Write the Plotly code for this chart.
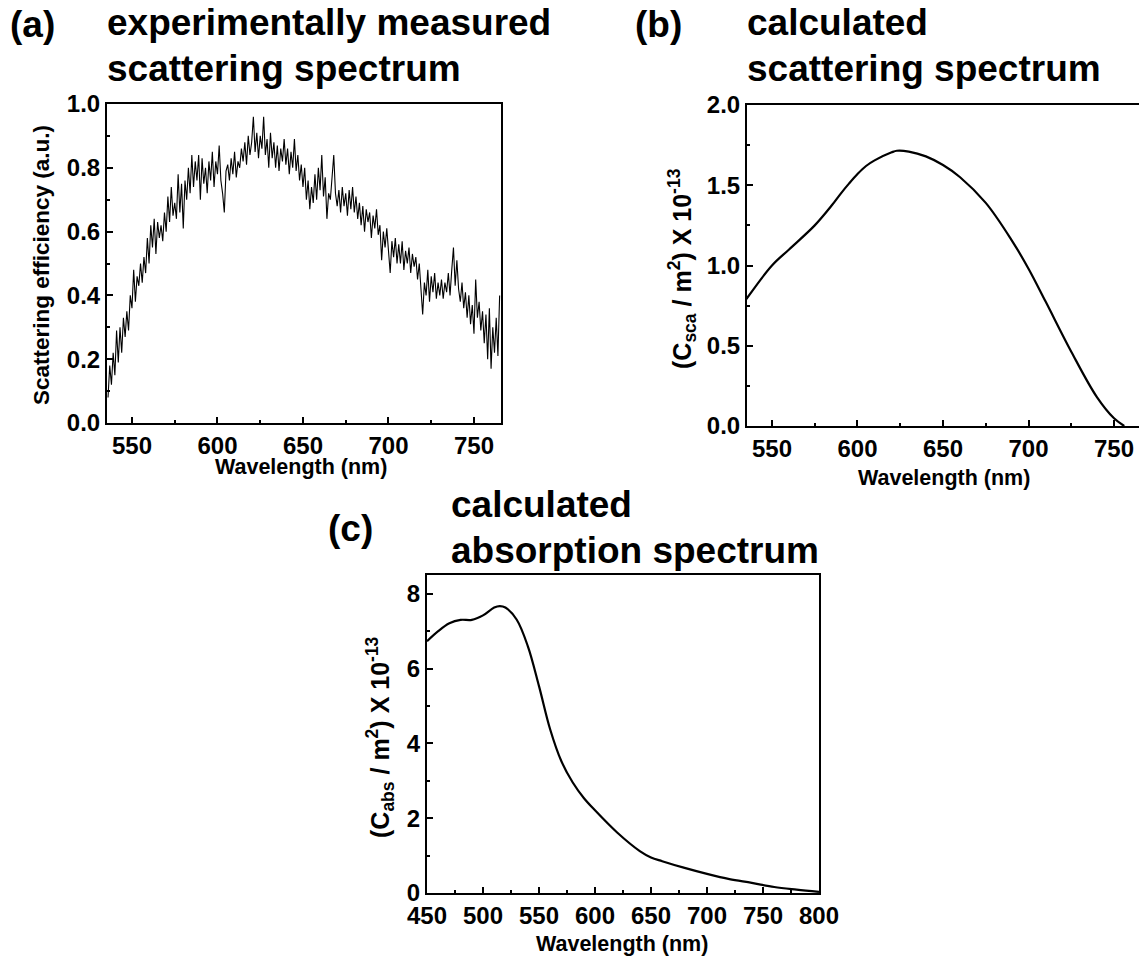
import plotly.graph_objects as go

# ---------------- data ----------------
wl_a = list(range(536, 766))
eff_a = [
    0.08, 0.18, 0.12, 0.22, 0.15, 0.29, 0.19, 0.30, 0.22, 0.33,
    0.27, 0.35, 0.29, 0.40, 0.36, 0.48, 0.38, 0.46, 0.43, 0.50,
    0.44, 0.52, 0.47, 0.58, 0.50, 0.62, 0.55, 0.64, 0.53, 0.63,
    0.58, 0.62, 0.57, 0.66, 0.60, 0.71, 0.63, 0.74, 0.65, 0.69,
    0.64, 0.78, 0.66, 0.75, 0.61, 0.76, 0.70, 0.80, 0.72, 0.84,
    0.74, 0.82, 0.76, 0.84, 0.70, 0.83, 0.75, 0.80, 0.72, 0.82,
    0.76, 0.85, 0.74, 0.82, 0.78, 0.87, 0.76, 0.72, 0.66, 0.79,
    0.81, 0.76, 0.83, 0.78, 0.85, 0.77, 0.82, 0.80, 0.86, 0.82,
    0.88, 0.81, 0.90, 0.84, 0.88, 0.96, 0.85, 0.91, 0.83, 0.90,
    0.86, 0.96, 0.84, 0.89, 0.80, 0.91, 0.83, 0.88, 0.80, 0.87,
    0.79, 0.86, 0.82, 0.89, 0.81, 0.86, 0.78, 0.85, 0.80, 0.89,
    0.79, 0.84, 0.76, 0.81, 0.74, 0.80, 0.70, 0.76, 0.67, 0.74,
    0.69, 0.78, 0.70, 0.80, 0.73, 0.84, 0.71, 0.77, 0.64, 0.72,
    0.70, 0.76, 0.84, 0.72, 0.68, 0.73, 0.66, 0.74, 0.68, 0.72,
    0.65, 0.73, 0.67, 0.74, 0.66, 0.71, 0.64, 0.69, 0.62, 0.68,
    0.60, 0.67, 0.63, 0.66, 0.58, 0.65, 0.61, 0.67, 0.59, 0.62,
    0.51, 0.60, 0.55, 0.61, 0.53, 0.47, 0.57, 0.52, 0.58, 0.50,
    0.56, 0.50, 0.57, 0.48, 0.54, 0.50, 0.55, 0.47, 0.53, 0.49,
    0.52, 0.45, 0.50, 0.40, 0.34, 0.44, 0.40, 0.48, 0.38, 0.46,
    0.41, 0.47, 0.39, 0.44, 0.40, 0.45, 0.39, 0.44, 0.41, 0.47,
    0.40, 0.48, 0.55, 0.43, 0.51, 0.42, 0.38, 0.44, 0.36, 0.41,
    0.33, 0.40, 0.31, 0.37, 0.28, 0.45, 0.33, 0.38, 0.29, 0.35,
    0.25, 0.34, 0.20, 0.36, 0.17, 0.30, 0.22, 0.33, 0.21, 0.40,
]

wl_b = [535, 550, 560, 575, 585, 590, 595, 600, 605, 610, 620, 623, 630, 640, 650, 660, 675, 690, 700,
        710, 725, 740, 750, 756]
csca_b = [0.79, 1.0, 1.1, 1.25, 1.375, 1.445, 1.51, 1.57, 1.62, 1.655, 1.705, 1.715, 1.71, 1.68, 1.626,
          1.55, 1.39, 1.16, 0.98, 0.775, 0.463, 0.18, 0.048, 0.0]

wl_c = [450, 460, 470, 480, 490, 500, 510, 515, 520, 530, 540, 550, 560, 570, 580, 590, 600, 620,
        640, 650, 660, 680, 700, 720, 740, 760, 780, 800]
cabs_c = [6.73, 7.0, 7.21, 7.30, 7.30, 7.42, 7.63, 7.67, 7.63, 7.31, 6.6, 5.53, 4.37, 3.52, 2.96, 2.54,
          2.21, 1.61, 1.12, 0.95, 0.85, 0.67, 0.51, 0.37, 0.27, 0.16, 0.09, 0.03]

x_ticks_ab = [550, 600, 650, 700, 750]
y_ticks_a = [0.0, 0.2, 0.4, 0.6, 0.8, 1.0]
y_ticks_b = [0.0, 0.5, 1.0, 1.5, 2.0]
x_ticks_c = [450, 500, 550, 600, 650, 700, 750, 800]
y_ticks_c = [0, 2, 4, 6, 8]

# ---------------- layout helpers ----------------
W, H = 1139, 958
FONT = "Liberation Sans, Arial, sans-serif"


def px(x):
    return x / W


def py(y):
    return 1 - y / H


fig = go.Figure()
fig.add_trace(go.Scatter(x=wl_a, y=eff_a, mode="lines", line=dict(color="black", width=1.1),
                         xaxis="x", yaxis="y", showlegend=False))
fig.add_trace(go.Scatter(x=wl_b, y=csca_b, mode="lines", line=dict(color="black", width=2.2, shape="spline"),
                         xaxis="x2", yaxis="y2", showlegend=False))
fig.add_trace(go.Scatter(x=wl_c, y=cabs_c, mode="lines", line=dict(color="black", width=2.2, shape="spline"),
                         xaxis="x3", yaxis="y3", showlegend=False))

tickfont = dict(family=FONT, size=24, color="black", weight="bold")


def ax(domain, rng, tickvals, fmt, minor_dtick, anchor):
    return dict(domain=domain, range=rng, tickvals=tickvals, tickformat=fmt,
                showline=True, mirror=True, linecolor="black", linewidth=2,
                ticks="inside", ticklen=6, tickwidth=2, tickcolor="black",
                minor=dict(ticks="inside", ticklen=3, tickwidth=2, tickcolor="black", dtick=minor_dtick),
                showgrid=False, zeroline=False, tickfont=tickfont, anchor=anchor,
                automargin=False, fixedrange=True)


fig.update_layout(
    template="none",
    width=W, height=H, margin=dict(l=0, r=0, t=0, b=0, pad=0, autoexpand=False),
    paper_bgcolor="white", plot_bgcolor="white",
    xaxis=ax([px(107), px(501)], [535.4, 765.8], x_ticks_ab, "d", 25, "y"),
    yaxis=ax([py(423), py(104)], [0, 1], y_ticks_a, ".1f", 0.1, "x"),
    xaxis2=ax([px(747), 1.0], [535.4, 764.6], x_ticks_ab, "d", 25, "y2"),
    yaxis2=ax([py(426), py(105)], [0, 2], y_ticks_b, ".1f", 0.25, "x2"),
    xaxis3=ax([px(427), px(819)], [450, 800], x_ticks_c, "d", 25, "y3"),
    yaxis3=ax([py(893), py(575)], [0, 8.5], y_ticks_c, "d", 1, "x3"),
)

annots = []


def text(x, y, s, size, xanchor="left", angle=0):
    annots.append(dict(x=px(x), y=py(y), xref="paper", yref="paper", text=s, showarrow=False,
                       xanchor=xanchor, yanchor="middle", textangle=angle,
                       font=dict(family=FONT, size=size, color="black", weight="bold")))


TS = 37
# panel titles
text(32, 24, "(a)", TS, "center")
text(105, 22, "experimentally measured", TS)
text(105, 69, "scattering spectrum", TS)
text(658, 24, "(b)", TS, "center")
text(745, 22, "calculated", TS)
text(745, 69, "scattering spectrum", TS)
text(350, 528, "(c)", TS, "center")
text(449, 504, "calculated", TS)
text(449, 550, "absorption spectrum", TS)

# axis titles
AS = 21.5
text(301, 467, "Wavelength (nm)", AS, "center")
text(944, 478, "Wavelength (nm)", AS, "center")
text(622, 944, "Wavelength (nm)", AS, "center")
text(41, 265, "Scattering efficiency (a.u.)", 22.5, "center", -90)
text(682, 269, "(C<sub>sca</sub> / m<sup>2</sup>) X 10<sup>-13</sup>", 25, "center", -90)
text(380, 737, "(C<sub>abs</sub> / m<sup>2</sup>) X 10<sup>-13</sup>", 25, "center", -90)

fig.update_layout(annotations=annots)
fig.write_html("out.html")
